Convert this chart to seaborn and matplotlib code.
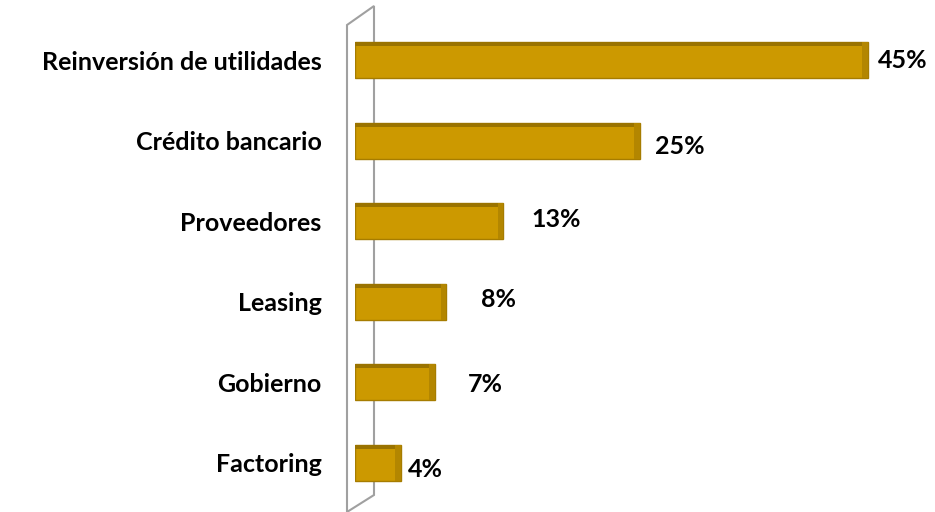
import matplotlib
matplotlib.use("Agg")
import matplotlib.pyplot as plt
from matplotlib.patches import Polygon
import seaborn as sns
import pandas as pd

categories = ["Reinversión de utilidades", "Crédito bancario", "Proveedores",
              "Leasing", "Gobierno", "Factoring"]
values = [45, 25, 13, 8, 7, 4]
value_labels = ["45%", "25%", "13%", "8%", "7%", "4%"]
label_dx = [10, 15, 28, 35, 33, 7]   # pixel offsets of value labels (right)
label_dy = [0, 6, -2, -2, 2, 7]      # pixel offsets of value labels (down)

df = pd.DataFrame({"cat": categories, "val": values})

sns.set_theme(style="white")
plt.rcParams["font.family"] = ["Lato", "DejaVu Sans"]

W, H = 935, 512
fig = plt.figure(figsize=(W / 100, H / 100), dpi=100)
fig.patch.set_facecolor("white")
ax = fig.add_axes([355 / W, 9 / H, (925 - 355) / W, (492 - 9) / H])
ax.set_facecolor("none")

sns.barplot(data=df, x="val", y="cat", orient="h", color="#CC9900",
            saturation=1, width=0.45, edgecolor="#A67C00", linewidth=1, ax=ax)

ax.set_xlim(0, 50)
ax.set_ylim(5.5, -0.5)
ax.set_xlabel("")
ax.set_ylabel("")
ax.set_xticks([])
for s in ax.spines.values():
    s.set_visible(False)
ax.tick_params(axis="y", length=0, pad=24)
for t in ax.get_yticklabels():
    t.set_fontweight("bold")
    t.set_fontsize(18)
    t.set_color("black")

# 3D-ish top and side faces on bars
for p in ax.patches[:]:
    x0, y0 = p.get_x(), p.get_y()
    w, h = p.get_width(), p.get_height()
    ax.add_patch(plt.Rectangle((x0, y0), w, h * 0.12, color="#9A7300", lw=0, zorder=3))
    ax.add_patch(plt.Rectangle((x0 + w - 0.5, y0), 0.5, h, color="#B38600", lw=0, zorder=3))

for i, (v, lab) in enumerate(zip(values, value_labels)):
    ax.annotate(lab, xy=(v, i), xytext=(label_dx[i] * 0.72, -label_dy[i] * 0.72),
                textcoords="offset points", ha="left", va="center",
                fontsize=18, fontweight="bold", color="black")

# wall (behind the bars)
wall = Polygon([(347 / W, 1 - 512 / H), (347 / W, 1 - 25 / H), (374 / W, 1 - 6 / H),
                (374 / W, 1 - 495 / H)], closed=True, facecolor="white",
               edgecolor="#A0A0A0", lw=1.5, transform=fig.transFigure, zorder=-1)
fig.add_artist(wall)

fig.savefig("out.png", dpi=100, facecolor="white")
